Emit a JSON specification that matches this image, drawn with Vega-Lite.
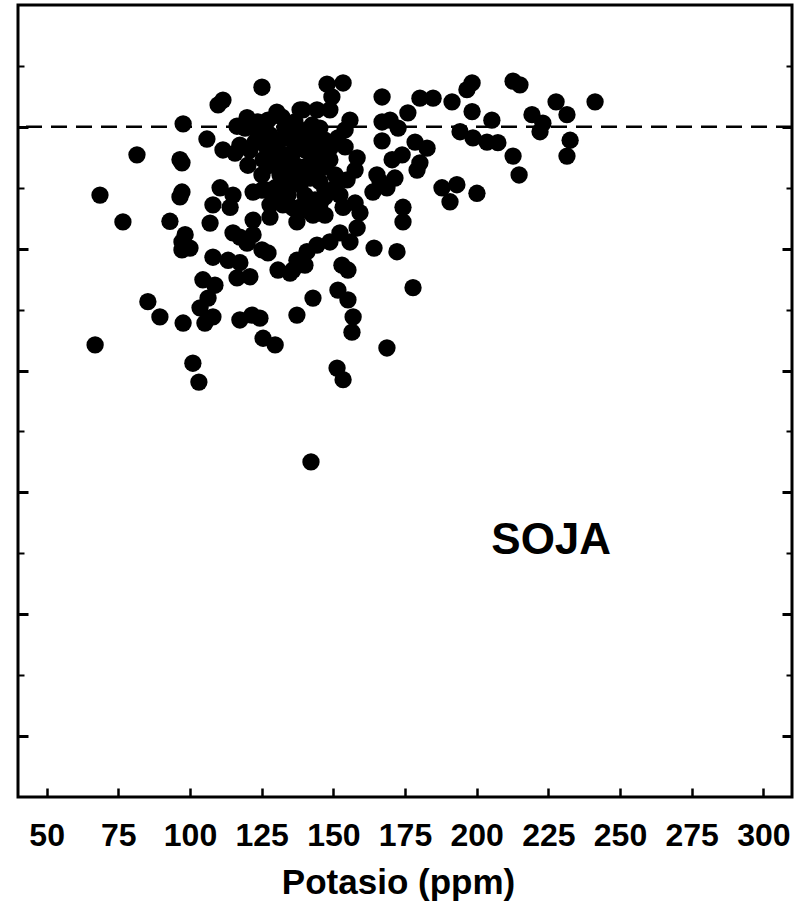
{
  "$schema": "https://vega.github.io/schema/vega-lite/v6.json",
  "width": 774,
  "height": 792,
  "autosize": {"type": "none"},
  "padding": {"left": 18, "top": 5, "right": 17, "bottom": 122},
  "background": "white",
  "config": {
    "view": {"stroke": "black", "strokeWidth": 3},
    "font": "Liberation Sans"
  },
  "datasets": {
    "soja": [
      {"k": 125.1, "rel": 106.5}, {"k": 111.5, "rel": 104.4}, {"k": 109.8, "rel": 103.6}, {"k": 97.6, "rel": 100.5},
      {"k": 116.4, "rel": 100.1}, {"k": 119.2, "rel": 99.8}, {"k": 119.9, "rel": 101.5}, {"k": 123.7, "rel": 100.8},
      {"k": 130.3, "rel": 102.4}, {"k": 132.1, "rel": 101.6}, {"k": 138.4, "rel": 102.8}, {"k": 105.9, "rel": 98.0},
      {"k": 111.5, "rel": 96.2}, {"k": 115.7, "rel": 95.7}, {"k": 120.2, "rel": 93.7}, {"k": 125.5, "rel": 94.6},
      {"k": 81.5, "rel": 95.4}, {"k": 96.5, "rel": 94.6}, {"k": 97.2, "rel": 94.1}, {"k": 68.6, "rel": 88.8},
      {"k": 97.2, "rel": 89.3}, {"k": 96.5, "rel": 88.5}, {"k": 110.5, "rel": 90.0}, {"k": 115.0, "rel": 88.8},
      {"k": 108.0, "rel": 87.2}, {"k": 114.0, "rel": 86.8}, {"k": 122.0, "rel": 89.3}, {"k": 126.9, "rel": 89.6},
      {"k": 130.7, "rel": 88.0}, {"k": 132.4, "rel": 87.2}, {"k": 76.6, "rel": 84.4}, {"k": 93.0, "rel": 84.5},
      {"k": 107.0, "rel": 84.2}, {"k": 122.0, "rel": 84.7}, {"k": 127.9, "rel": 85.2}, {"k": 137.3, "rel": 84.4},
      {"k": 98.3, "rel": 82.3}, {"k": 97.2, "rel": 81.1}, {"k": 100.0, "rel": 80.1}, {"k": 97.2, "rel": 79.8},
      {"k": 115.0, "rel": 82.6}, {"k": 117.4, "rel": 81.9}, {"k": 122.0, "rel": 82.3}, {"k": 119.9, "rel": 80.9},
      {"k": 125.1, "rel": 79.8}, {"k": 127.2, "rel": 79.3}, {"k": 108.0, "rel": 78.6}, {"k": 113.3, "rel": 78.1},
      {"k": 117.4, "rel": 77.7}, {"k": 116.4, "rel": 75.2}, {"k": 120.9, "rel": 75.4}, {"k": 130.7, "rel": 76.5},
      {"k": 135.9, "rel": 76.5}, {"k": 137.3, "rel": 78.1}, {"k": 104.5, "rel": 74.9}, {"k": 108.7, "rel": 74.0},
      {"k": 106.3, "rel": 71.9}, {"k": 103.5, "rel": 70.3}, {"k": 85.3, "rel": 71.3}, {"k": 89.5, "rel": 68.8},
      {"k": 97.6, "rel": 67.8}, {"k": 105.2, "rel": 67.8}, {"k": 108.0, "rel": 68.8}, {"k": 117.4, "rel": 68.3},
      {"k": 121.6, "rel": 69.1}, {"k": 124.4, "rel": 68.6}, {"k": 137.3, "rel": 69.1}, {"k": 66.9, "rel": 64.2},
      {"k": 125.5, "rel": 65.3}, {"k": 129.7, "rel": 64.2}, {"k": 101.0, "rel": 61.2}, {"k": 103.1, "rel": 58.1},
      {"k": 147.8, "rel": 107.0}, {"k": 153.4, "rel": 107.2}, {"k": 149.5, "rel": 104.9}, {"k": 167.0, "rel": 104.9},
      {"k": 180.2, "rel": 104.7}, {"k": 184.8, "rel": 104.7}, {"k": 191.4, "rel": 104.1}, {"k": 196.6, "rel": 106.1},
      {"k": 198.4, "rel": 107.2}, {"k": 212.7, "rel": 107.5}, {"k": 215.1, "rel": 106.9}, {"k": 241.3, "rel": 104.1},
      {"k": 227.7, "rel": 104.1}, {"k": 231.5, "rel": 102.0}, {"k": 198.4, "rel": 102.5}, {"k": 205.3, "rel": 101.1},
      {"k": 219.3, "rel": 102.0}, {"k": 223.1, "rel": 100.6}, {"k": 222.1, "rel": 99.2}, {"k": 232.6, "rel": 97.8},
      {"k": 231.5, "rel": 95.2}, {"k": 194.2, "rel": 99.2}, {"k": 198.7, "rel": 98.2}, {"k": 203.6, "rel": 97.5},
      {"k": 207.4, "rel": 97.4}, {"k": 212.7, "rel": 95.2}, {"k": 214.8, "rel": 92.1}, {"k": 139.4, "rel": 102.8},
      {"k": 144.3, "rel": 102.8}, {"k": 148.8, "rel": 102.8}, {"k": 155.8, "rel": 101.1}, {"k": 167.0, "rel": 100.8},
      {"k": 169.8, "rel": 101.1}, {"k": 172.6, "rel": 99.8}, {"k": 176.0, "rel": 102.3}, {"k": 167.0, "rel": 97.7},
      {"k": 178.5, "rel": 97.5}, {"k": 182.7, "rel": 96.5}, {"k": 180.2, "rel": 94.1}, {"k": 179.2, "rel": 92.9},
      {"k": 170.5, "rel": 94.6}, {"k": 174.0, "rel": 95.4}, {"k": 165.2, "rel": 92.1}, {"k": 166.3, "rel": 91.0},
      {"k": 163.8, "rel": 89.3}, {"k": 168.7, "rel": 90.0}, {"k": 171.5, "rel": 91.6}, {"k": 154.1, "rel": 96.7},
      {"k": 158.3, "rel": 94.9}, {"k": 157.6, "rel": 92.9}, {"k": 154.8, "rel": 91.3}, {"k": 146.4, "rel": 93.4},
      {"k": 142.9, "rel": 94.9}, {"k": 135.9, "rel": 95.7}, {"k": 138.4, "rel": 93.4}, {"k": 134.9, "rel": 92.9},
      {"k": 150.6, "rel": 90.0}, {"k": 147.1, "rel": 88.5}, {"k": 145.3, "rel": 87.2}, {"k": 138.4, "rel": 86.8},
      {"k": 142.9, "rel": 85.5}, {"k": 147.1, "rel": 85.5}, {"k": 153.4, "rel": 86.8}, {"k": 157.6, "rel": 87.5},
      {"k": 159.3, "rel": 85.9}, {"k": 158.3, "rel": 83.4}, {"k": 155.8, "rel": 81.1}, {"k": 152.3, "rel": 82.6},
      {"k": 148.8, "rel": 81.1}, {"k": 144.3, "rel": 80.6}, {"k": 140.8, "rel": 79.5}, {"k": 134.9, "rel": 76.0},
      {"k": 140.1, "rel": 77.3}, {"k": 164.2, "rel": 80.1}, {"k": 172.2, "rel": 79.5}, {"k": 174.3, "rel": 86.8},
      {"k": 174.3, "rel": 84.4}, {"k": 187.9, "rel": 90.0}, {"k": 193.1, "rel": 90.5}, {"k": 190.7, "rel": 87.7},
      {"k": 200.1, "rel": 89.1}, {"k": 153.0, "rel": 77.3}, {"k": 155.1, "rel": 76.5}, {"k": 151.6, "rel": 73.2},
      {"k": 155.1, "rel": 71.6}, {"k": 156.9, "rel": 68.8}, {"k": 156.5, "rel": 66.3}, {"k": 142.9, "rel": 71.9},
      {"k": 177.8, "rel": 73.6}, {"k": 168.7, "rel": 63.7}, {"k": 151.3, "rel": 60.4}, {"k": 153.4, "rel": 58.5},
      {"k": 142.2, "rel": 45.0},
      {"k": 127.9, "rel": 98.7}, {"k": 131.4, "rel": 97.8}, {"k": 134.9, "rel": 98.7}, {"k": 138.4, "rel": 99.5},
      {"k": 141.9, "rel": 98.7}, {"k": 145.3, "rel": 99.8}, {"k": 129.7, "rel": 96.2}, {"k": 133.1, "rel": 95.4},
      {"k": 140.1, "rel": 96.2}, {"k": 143.6, "rel": 97.0}, {"k": 147.1, "rel": 97.8}, {"k": 127.9, "rel": 93.7},
      {"k": 131.4, "rel": 92.1}, {"k": 134.9, "rel": 91.0}, {"k": 138.4, "rel": 90.5}, {"k": 141.9, "rel": 91.6},
      {"k": 145.3, "rel": 91.0}, {"k": 129.7, "rel": 90.0}, {"k": 134.2, "rel": 88.8}, {"k": 140.1, "rel": 88.8},
      {"k": 148.8, "rel": 94.6}, {"k": 151.6, "rel": 98.2}, {"k": 154.1, "rel": 99.5}, {"k": 136.6, "rel": 100.8},
      {"k": 126.2, "rel": 97.0}, {"k": 122.7, "rel": 97.5}, {"k": 142.6, "rel": 100.3}, {"k": 144.7, "rel": 94.6},
      {"k": 125.1, "rel": 92.1}, {"k": 127.9, "rel": 87.2},
      {"k": 125.1, "rel": 99.5}, {"k": 127.2, "rel": 101.1}, {"k": 133.1, "rel": 99.8}, {"k": 135.6, "rel": 97.8},
      {"k": 139.1, "rel": 97.5}, {"k": 142.6, "rel": 96.2}, {"k": 146.0, "rel": 95.4}, {"k": 148.8, "rel": 96.5},
      {"k": 128.6, "rel": 94.9}, {"k": 132.1, "rel": 94.2}, {"k": 136.6, "rel": 93.7}, {"k": 141.2, "rel": 93.7},
      {"k": 144.0, "rel": 92.9}, {"k": 125.1, "rel": 89.6}, {"k": 132.1, "rel": 90.5}, {"k": 137.0, "rel": 92.1},
      {"k": 147.1, "rel": 89.6}, {"k": 143.6, "rel": 88.0}, {"k": 135.9, "rel": 86.7}, {"k": 140.1, "rel": 86.4},
      {"k": 120.9, "rel": 96.2}, {"k": 123.7, "rel": 98.7}, {"k": 117.4, "rel": 97.0}, {"k": 150.6, "rel": 92.1},
      {"k": 152.3, "rel": 88.8}
    ],
    "reference": [{"rel": 100}]
  },
  "layer": [
    {
      "data": {"name": "soja"},
      "mark": {"type": "circle", "size": 300, "color": "black", "opacity": 1},
      "encoding": {
        "x": {
          "field": "k",
          "type": "quantitative",
          "scale": {"domain": [40, 310], "nice": false, "zero": false},
          "axis": {
            "title": "Potasio (ppm)",
            "values": [50, 75, 100, 125, 150, 175, 200, 225, 250, 275, 300],
            "domain": false,
            "grid": false,
            "tickSize": -9,
            "tickWidth": 2.5,
            "tickColor": "black",
            "labelFont": "Liberation Sans",
            "labelFontWeight": "bold",
            "labelFontSize": 32,
            "labelColor": "black",
            "labelPadding": 32,
            "titleFont": "Liberation Sans",
            "titleFontWeight": "bold",
            "titleFontSize": 35,
            "titleColor": "black",
            "titleX": 380,
            "titlePadding": 14
          }
        },
        "y": {
          "field": "rel",
          "type": "quantitative",
          "scale": {"domain": [-10, 120], "nice": false, "zero": false},
          "axis": {
            "orient": "left",
            "title": null,
            "labels": false,
            "domain": false,
            "grid": false,
            "values": [0, 10, 20, 30, 40, 50, 60, 70, 80, 90, 100, 110],
            "tickColor": "black",
            "tickSize": {"condition": {"test": "datum.value % 20 === 0", "value": -10}, "value": -6},
            "tickWidth": {"condition": {"test": "datum.value % 20 === 0", "value": 3}, "value": 2}
          }
        }
      }
    },
    {
      "data": {"name": "reference"},
      "mark": {"type": "rule", "color": "black", "strokeWidth": 2.5, "strokeDash": [16, 9]},
      "encoding": {
        "y": {
          "field": "rel",
          "type": "quantitative",
          "axis": {
            "orient": "right",
            "title": null,
            "labels": false,
            "domain": false,
            "grid": false,
            "values": [0, 10, 20, 30, 40, 50, 60, 70, 80, 90, 100, 110],
            "tickColor": "black",
            "tickSize": {"condition": {"test": "datum.value % 20 === 0", "value": -10}, "value": -6},
            "tickWidth": {"condition": {"test": "datum.value % 20 === 0", "value": 3}, "value": 2}
          }
        }
      }
    },
    {
      "data": {"values": [{}]},
      "mark": {"type": "text", "text": "SOJA", "font": "Liberation Sans", "fontWeight": "bold", "fontSize": 44, "align": "center", "baseline": "middle", "color": "black"},
      "encoding": {
        "x": {"datum": 226, "type": "quantitative"},
        "y": {"datum": 32, "type": "quantitative", "axis": null}
      }
    }
  ],
  "resolve": {"axis": {"y": "independent"}}
}
